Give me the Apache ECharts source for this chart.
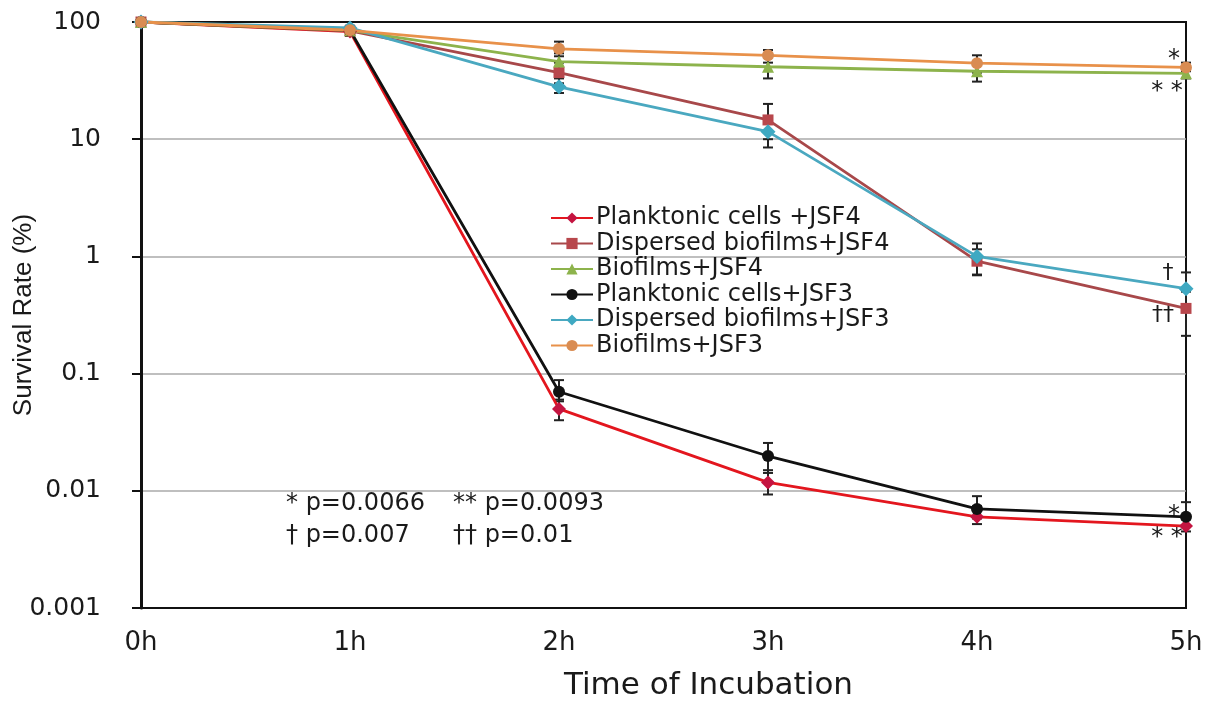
<!DOCTYPE html>
<html>
<head>
<meta charset="utf-8">
<script src="https://cdn.jsdelivr.net/npm/echarts@6/dist/echarts.min.js"></script>
<style>
  html, body { margin: 0; padding: 0; background: #fff; }
  #chart { width: 1207px; height: 701px; }
</style>
</head>
<body>
<div id="chart"></div>
<script>
// time points
var hours = ['0h', '1h', '2h', '3h', '4h', '5h'];
var yTicks = [0.001, 0.01, 0.1, 1, 10, 100];

// survival rate (%) per series, with error bar low / high
var planktonicJSF4 = [100, 83, 0.05, 0.0118, 0.006, 0.005];
var planktonicJSF4Low = [100, 78, 0.040, 0.0093, 0.0052, 0.0045];
var planktonicJSF4High = [100, 88, 0.060, 0.015, 0.0074, 0.0057];

var dispersedJSF4 = [100, 84, 37, 14.6, 0.91, 0.36];
var dispersedJSF4Low = [100, 80, 30, 10, 0.70, 0.21];
var dispersedJSF4High = [100, 88, 45, 20, 1.15, 0.50];

var biofilmsJSF4 = [100, 85, 46, 41.5, 38, 36.5];
var biofilmsJSF4Low = [100, 80, 39, 33, 31, 33];
var biofilmsJSF4High = [100, 90, 54, 50, 46, 40];

var planktonicJSF3 = [100, 85, 0.07, 0.0198, 0.007, 0.006];
var planktonicJSF3Low = [100, 76, 0.058, 0.0142, 0.0058, 0.005];
var planktonicJSF3High = [100, 92, 0.088, 0.0256, 0.009, 0.008];

var dispersedJSF3 = [100, 89, 28, 11.6, 1.0, 0.53];
var dispersedJSF3Low = [100, 85, 24.8, 8.5, 0.69, 0.38];
var dispersedJSF3High = [100, 93, 33, 15, 1.29, 0.73];

var biofilmsJSF3 = [100, 85, 59, 52, 44.5, 41];
var biofilmsJSF3Low = [100, 80, 51, 45, 37, 38];
var biofilmsJSF3High = [100, 90, 68, 57.7, 52, 45];

var legendNames = ['Planktonic cells +JSF4', 'Dispersed biofilms+JSF4', 'Biofilms+JSF4',
    'Planktonic cells+JSF3', 'Dispersed biofilms+JSF3', 'Biofilms+JSF3'];

var myChart = echarts.init(document.getElementById('chart'));

function errorBars(low, high) {
    var data = [];
    for (var i = 0; i < low.length; i++) {
        if (low[i] !== high[i]) data.push([i, low[i], high[i]]);
    }
    return {
        type: 'custom',
        silent: true,
        z: 1,
        data: data,
        renderItem: function (params, api) {
            var lo = api.coord([api.value(0), api.value(1)]);
            var hi = api.coord([api.value(0), api.value(2)]);
            var cap = 5;
            var style = { stroke: '#222', lineWidth: 2 };
            return {
                type: 'group',
                children: [
                    { type: 'line', shape: { x1: lo[0], y1: lo[1], x2: hi[0], y2: hi[1] }, style: style },
                    { type: 'line', shape: { x1: lo[0] - cap, y1: lo[1], x2: lo[0] + cap, y2: lo[1] }, style: style },
                    { type: 'line', shape: { x1: hi[0] - cap, y1: hi[1], x2: hi[0] + cap, y2: hi[1] }, style: style }
                ]
            };
        }
    };
}

function lineSeries(name, data, lineColor, symbolColor, symbol, size) {
    return {
        name: name,
        type: 'line',
        data: data,
        symbol: symbol,
        symbolSize: size,
        z: 3,
        lineStyle: { color: lineColor, width: 2.8 },
        itemStyle: { color: symbolColor },
        emphasis: { disabled: true }
    };
}

var textFont = 'DejaVu Sans';
var ink = '#1a1a1a';

function note(text, x, y, size) {
    return {
        type: 'text', x: x, y: y,
        style: { text: text, font: size + 'px DejaVu Sans', fill: ink, textAlign: 'center', textVerticalAlign: 'middle' }
    };
}

var option = {
    animation: false,
    grid: {
        left: 141,
        right: 21,
        top: 22,
        bottom: 93,
        containLabel: false,
        outerBoundsMode: 'none',
        show: true,
        borderColor: '#111',
        borderWidth: 2
    },
    legend: {
        orient: 'vertical',
        left: 550,
        top: 206,
        padding: 0,
        itemWidth: 42,
        itemHeight: 14,
        itemGap: 1.5,
        textStyle: { fontFamily: textFont, fontSize: 24, lineHeight: 24, color: ink, padding: [0, 0, 0, -2] },
        data: legendNames
    },
    xAxis: [{
        type: 'category',
        data: hours,
        boundaryGap: false,
        name: 'Time of Incubation',
        nameLocation: 'middle',
        nameGap: 62,
        nameMoveOverlap: false,
        nameTextStyle: { fontFamily: textFont, fontSize: 31, color: ink, padding: [0, 0, 0, 90] },
        axisLine: { lineStyle: { color: '#111', width: 2 } },
        axisTick: { show: false },
        axisLabel: { margin: 22, fontFamily: textFont, fontSize: 26, color: ink },
        splitLine: { show: false }
    }, {
        type: 'category',
        data: hours,
        boundaryGap: false,
        position: 'top',
        axisLine: { lineStyle: { color: '#111', width: 2 } },
        axisTick: { show: false },
        axisLabel: { show: false },
        splitLine: { show: false }
    }],
    yAxis: {
        type: 'log',
        logBase: 10,
        min: yTicks[0],
        max: yTicks[yTicks.length - 1],
        name: 'Survival Rate (%)',
        nameLocation: 'middle',
        nameGap: 104,
        nameMoveOverlap: false,
        nameTextStyle: { fontFamily: 'Liberation Sans', fontSize: 26, color: ink },
        axisLine: { show: true, lineStyle: { color: '#111', width: 3 } },
        axisTick: { show: true, length: 9, lineStyle: { color: '#111', width: 2 } },
        axisLabel: {
            margin: 40,
            fontFamily: textFont,
            fontSize: 25,
            color: ink,
            formatter: function (v) { return String(+v.toPrecision(3)); }
        },
        splitLine: { show: true, lineStyle: { color: '#aaa', width: 1.5 } }
    },
    graphic: [
        { type: 'text', left: 286, top: 492, style: { text: '* p=0.0066', font: '24px DejaVu Sans', fill: ink } },
        { type: 'text', left: 453, top: 492, style: { text: '** p=0.0093', font: '24px DejaVu Sans', fill: ink } },
        { type: 'text', left: 286, top: 524, style: { text: '† p=0.007', font: '24px DejaVu Sans', fill: ink } },
        { type: 'text', left: 453, top: 524, style: { text: '†† p=0.01', font: '24px DejaVu Sans', fill: ink } },
        note('*', 1174, 60, 24),
        note('* *', 1167, 92, 24),
        note('†', 1168, 273, 22),
        note('††', 1163, 315, 22),
        note('*', 1174, 516, 24),
        note('* *', 1167, 538, 24)
    ],
    series: [
        errorBars(planktonicJSF4Low, planktonicJSF4High),
        errorBars(dispersedJSF4Low, dispersedJSF4High),
        errorBars(biofilmsJSF4Low, biofilmsJSF4High),
        errorBars(planktonicJSF3Low, planktonicJSF3High),
        errorBars(dispersedJSF3Low, dispersedJSF3High),
        errorBars(biofilmsJSF3Low, biofilmsJSF3High),
        lineSeries(legendNames[0], planktonicJSF4, '#e3161e', '#c41440', 'diamond', 14),
        lineSeries(legendNames[1], dispersedJSF4, '#a8484a', '#b8474c', 'rect', 11),
        lineSeries(legendNames[2], biofilmsJSF4, '#8db34c', '#8db34c', 'triangle', 12),
        lineSeries(legendNames[3], planktonicJSF3, '#111111', '#111111', 'circle', 12),
        lineSeries(legendNames[4], dispersedJSF3, '#4aa8c0', '#3fa9c2', 'diamond', 15),
        lineSeries(legendNames[5], biofilmsJSF3, '#e8914a', '#d98c52', 'circle', 12)
    ]
};
myChart.setOption(option);
</script>
</body>
</html>
